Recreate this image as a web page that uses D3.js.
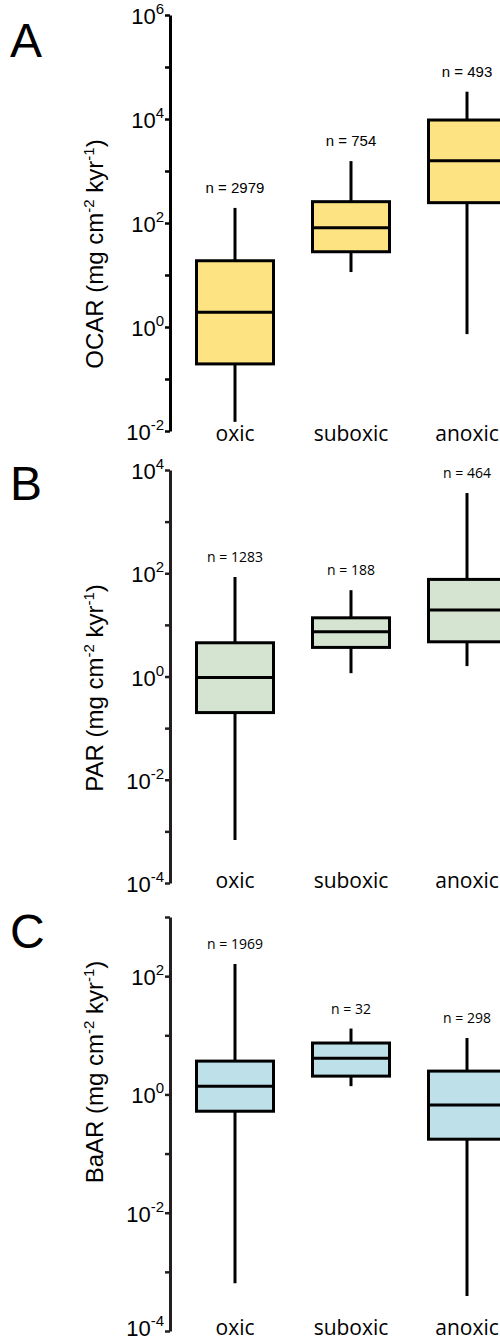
<!DOCTYPE html>
<html>
<head>
<meta charset="utf-8">
<script src="https://cdn.jsdelivr.net/npm/d3@7"></script>
<style>
  html, body { margin: 0; padding: 0; background: #fff; }
  svg { display: block; }
</style>
</head>
<body>
<svg id="chart" width="500" height="1342"></svg>
<script>
// ---------- DATA ----------
const categories = ["oxic", "suboxic", "anoxic"];

// five-number rows: [whisker low, Q1, median, Q3, whisker high]
const ocarStats = [
  [0.015, 0.195, 1.92, 18.8, 195],
  [11.4, 28, 81, 257, 1550],
  [0.73, 246, 1578, 9560, 33500]
];
const ocarN = [2979, 754, 493];

const parStats = [
  [0.00068, 0.20, 0.96, 4.5, 85],
  [1.16, 3.66, 7.35, 13.7, 47],
  [1.59, 4.7, 19.4, 76, 3580]
];
const parN = [1283, 188, 464];

const baarStats = [
  [0.00064, 0.52, 1.38, 3.66, 160],
  [1.38, 2.04, 4.1, 7.4, 13],
  [0.00039, 0.175, 0.66, 2.48, 9.0]
];
const baarN = [1969, 32, 298];

// axis tick exponents (labelled and minor)
const ocarTickExp = [-2, -1, 0, 1, 2, 3, 4, 5, 6];
const ocarLabelExp = [-2, 0, 2, 4, 6];
const parTickExp = [-4, -3, -2, -1, 0, 1, 2, 3, 4];
const parLabelExp = [-4, -2, 0, 2, 4];
const baarTickExp = [-4, -3, -2, -1, 0, 1, 2, 3];
const baarLabelExp = [-4, -2, 0, 2];

const panelLetters = ["A", "B", "C"];
const titleNames = ["OCAR", "PAR", "BaAR"];

// ---------- LAYOUT ----------
const svg = d3.select("#chart");
const axisX = 170;
const x = d3.scalePoint().domain(categories).range([177, 525]).padding(0.5);
const boxW = 77;

const panels = [
  { stats: ocarStats, n: ocarN, tickExp: ocarTickExp, labelExp: ocarLabelExp,
    domain: [1e-2, 1e6], range: [431, 15], fill: "#fee383", axisColor: "#000",
    letterY: 57, titleY: 254, catY: 441 },
  { stats: parStats, n: parN, tickExp: parTickExp, labelExp: parLabelExp,
    domain: [1e-4, 1e4], range: [883, 470], fill: "#d5e4d1", axisColor: "#231f20",
    letterY: 500, titleY: 688, catY: 888 },
  { stats: baarStats, n: baarN, tickExp: baarTickExp, labelExp: baarLabelExp,
    domain: [1e-4, 1e3], range: [1331, 917], fill: "#bee0e9", axisColor: "#231f20",
    letterY: 948, titleY: 1072, catY: 1335 }
];

const tickFont = "'Liberation Sans', Arial, sans-serif";
const catFont = "'Open Sans', 'Noto Sans', sans-serif";

panels.forEach((p, i) => {
  const y = d3.scaleLog().domain(p.domain).range(p.range);
  const g = svg.append("g");

  // panel letter
  g.append("text")
    .attr("x", 10).attr("y", p.letterY)
    .attr("font-family", tickFont).attr("font-size", 48)
    .attr("fill", "#000")
    .text(panelLetters[i]);

  // y axis title
  const t = g.append("text")
    .attr("transform", `translate(103,${p.titleY}) rotate(-90)`)
    .attr("text-anchor", "middle")
    .attr("font-family", tickFont).attr("font-size", 24)
    .attr("fill", "#000");
  t.append("tspan").text(titleNames[i] + " (mg cm");
  t.append("tspan").attr("dy", -9).attr("font-size", 15).text("-2");
  t.append("tspan").attr("dy", 9).text(" kyr");
  t.append("tspan").attr("dy", -9).attr("font-size", 15).text("-1");
  t.append("tspan").attr("dy", 9).text(")");

  // axis
  const axis = d3.axisLeft(y)
    .tickValues(p.tickExp.map(e => Math.pow(10, e)))
    .tickSize(5).tickSizeOuter(0)
    .tickFormat(() => "");
  const ag = g.append("g").attr("transform", `translate(${axisX},0)`).call(axis);
  ag.select(".domain").attr("stroke", p.axisColor).attr("stroke-width", 3);
  ag.selectAll(".tick line").attr("stroke", p.axisColor).attr("stroke-width", 2.5);
  ag.selectAll(".tick text").remove();

  // tick labels 10^e
  p.labelExp.forEach(e => {
    const lbl = g.append("text")
      .attr("x", axisX - 6).attr("y", Math.min(y(Math.pow(10, e)) + 9, 1336))
      .attr("text-anchor", "end")
      .attr("font-family", tickFont).attr("font-size", 22)
      .attr("fill", "#000");
    lbl.append("tspan").text("10");
    lbl.append("tspan").attr("dy", -10).attr("font-size", 15).text(String(e));
  });

  // boxes
  p.stats.forEach((s, j) => {
    const cx = x(categories[j]);
    const [lo, q1, med, q3, hi] = s;
    g.append("line")
      .attr("x1", cx).attr("x2", cx)
      .attr("y1", y(lo)).attr("y2", y(hi))
      .attr("stroke", "#000").attr("stroke-width", 3);
    g.append("rect")
      .attr("x", cx - boxW / 2).attr("width", boxW)
      .attr("y", y(q3)).attr("height", y(q1) - y(q3))
      .attr("fill", p.fill).attr("stroke", "#000").attr("stroke-width", 3);
    g.append("line")
      .attr("x1", cx - boxW / 2).attr("x2", cx + boxW / 2)
      .attr("y1", y(med)).attr("y2", y(med))
      .attr("stroke", "#000").attr("stroke-width", 3);
    g.append("text")
      .attr("x", cx).attr("y", y(hi) - 15)
      .attr("text-anchor", "middle")
      .attr("font-family", i === 0 ? tickFont : catFont)
      .attr("font-size", i === 0 ? 15 : 14)
      .attr("fill", "#000")
      .text("n = " + p.n[j]);
    g.append("text")
      .attr("x", cx).attr("y", p.catY)
      .attr("text-anchor", "middle")
      .attr("font-family", catFont).attr("font-size", 21)
      .attr("fill", "#000")
      .text(categories[j]);
  });
});
</script>
</body>
</html>
